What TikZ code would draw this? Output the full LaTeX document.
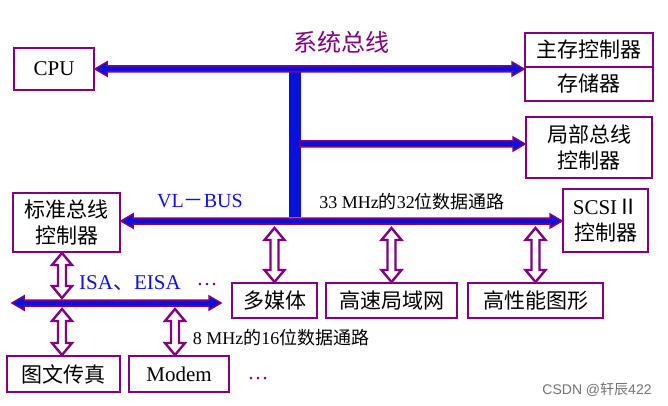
\documentclass[tikz,border=0pt]{standalone}
\usepackage{fontspec}
\setmainfont{Liberation Serif}
\newfontfamily\cjk{Noto Sans CJK SC}
\newfontfamily\wmfont{Liberation Sans}
\usetikzlibrary{calc}
\definecolor{boxpurple}{RGB}{128,0,128}
\definecolor{busblue}{RGB}{8,16,222}
\definecolor{labelblue}{RGB}{16,16,230}

% filled bus arrow with heads at both ends
\newcommand\busboth[2]{\draw[busarr] let \p1=(#1), \p2=(#2) in
  (\x1,\y1) -- (\x1+12pt,\y1+7pt) -- (\x1+12pt,\y1+3pt) -- (\x2-12pt,\y1+3pt)
  -- (\x2-12pt,\y1+7pt) -- (\x2,\y1) -- (\x2-12pt,\y1-7pt) -- (\x2-12pt,\y1-3pt)
  -- (\x1+12pt,\y1-3pt) -- (\x1+12pt,\y1-7pt) -- cycle;}
% filled bus arrow with a head at the right end only
\newcommand\busright[2]{\draw[busarr] let \p1=(#1), \p2=(#2) in
  (\x1,\y1+3pt) -- (\x2-12pt,\y1+3pt) -- (\x2-12pt,\y1+7pt) -- (\x2,\y1)
  -- (\x2-12pt,\y1-7pt) -- (\x2-12pt,\y1-3pt) -- (\x1,\y1-3pt) -- cycle;}
% hollow vertical double arrow from an upper point to a lower one
\newcommand\linkarrow[2]{\draw[hollowarr] let \p1=(#1), \p2=(#2) in
  (\x1,\y1) -- (\x1+10pt,\y1-12pt) -- (\x1+4pt,\y1-12pt) -- (\x1+4pt,\y2+12pt)
  -- (\x1+10pt,\y2+12pt) -- (\x1,\y2) -- (\x1-10pt,\y2+12pt) -- (\x1-4pt,\y2+12pt)
  -- (\x1-4pt,\y1-12pt) -- (\x1-10pt,\y1-12pt) -- cycle;}

\tikzset{
  box/.style={draw=boxpurple, line width=2pt, fill=white, inner sep=0pt,
    align=center, font=\fontsize{21}{26}\selectfont},
  busarr/.style={draw=boxpurple, line width=1.5pt, fill=busblue, line join=miter},
  hollowarr/.style={draw=boxpurple, line width=2.4pt, fill=white, line join=miter},
  bustitle/.style={font=\fontsize{24}{28}\selectfont\cjk, text=boxpurple},
  buslabel/.style={font=\fontsize{20}{24}\selectfont, text=labelblue},
  pathlabel/.style={font=\fontsize{18}{22}\selectfont, text=black},
  dots/.style={font=\fontsize{21}{24}\selectfont, text=boxpurple},
}

\begin{document}
\begin{tikzpicture}[x=1pt, y=-1pt]
\useasboundingbox (0,0) rectangle (668,406);
\fill[white] (0,0) rectangle (668,406);

% component boxes
\node[box, minimum width=80pt, minimum height=42pt] (cpu) at (54,69) {CPU};
\node[box, minimum width=128pt, minimum height=34pt, font=\fontsize{21}{26}\selectfont\cjk] (mainctl) at (589,50) {主存控制器};
\node[box, minimum width=128pt, minimum height=34pt, font=\fontsize{21}{26}\selectfont\cjk] (mem) at (589,84) {存储器};
\node[box, minimum width=126pt, minimum height=61pt, font=\fontsize{21}{26}\selectfont\cjk] (localctl) at (589,147.5) {局部总线\\控制器};
\node[box, minimum width=107pt, minimum height=59pt, font=\fontsize{21}{26}\selectfont\cjk] (stdctl) at (66.5,222.5) {标准总线\\控制器};
\node[box, minimum width=85pt, minimum height=63pt] (scsi) at (605.5,220.5) {SCSI{\cjk Ⅱ}\\{\cjk 控制器}};
\node[box, minimum width=85pt, minimum height=35pt, font=\fontsize{21}{26}\selectfont\cjk] (mm) at (274.5,300.5) {多媒体};
\node[box, minimum width=131pt, minimum height=35pt, font=\fontsize{21}{26}\selectfont\cjk] (lan) at (391.5,300.5) {高速局域网};
\node[box, minimum width=135pt, minimum height=35pt, font=\fontsize{21}{26}\selectfont\cjk] (gfx) at (535.5,300.5) {高性能图形};
\node[box, minimum width=113pt, minimum height=36pt, font=\fontsize{21}{26}\selectfont\cjk] (fax) at (63.5,374) {图文传真};
\node[box, minimum width=100pt, minimum height=36pt] (modem) at (179,374) {Modem};

% bus junction points
\coordinate (sysR) at (mainctl.south west);
\coordinate (vlL) at (stdctl.east |- 0,221);
\coordinate (vlR) at (scsi.west |- 0,221);
\coordinate (isaL) at (12,303);
\coordinate (isaR) at (221,303);
\coordinate (localL) at (300,144);
\coordinate (localR) at (localctl.west |- 0,144);

% trunk joining the system bus to the VL bus
\fill[busblue] (289,71) rectangle (301,217);

% buses
\busboth{cpu.east}{sysR}
\busright{localL}{localR}
\busboth{vlL}{vlR}
\busboth{isaL}{isaR}

% hollow links between buses and devices
\linkarrow{274.5,228}{mm.north}
\linkarrow{391.5,228}{lan.north}
\linkarrow{535.5,228}{gfx.north}
\linkarrow{62,253}{62,298}
\linkarrow{62,309}{62,355}
\linkarrow{175,309}{175,355}

% labels
\node[bustitle] (systitle) at (341,42) {系统总线};
\node[buslabel] (vllabel) at (200,201) {VL{\cjk －}BUS};
\node[pathlabel] (vlpath) at (412,202) {33 MHz{\cjk 的}32{\cjk 位数据通路}};
\node[buslabel, font=\fontsize{21}{24}\selectfont] (isalabel) at (130,283) {ISA{\cjk 、}EISA};
\node[dots] (isadots) at (207,285) {…};
\node[pathlabel] (isapath) at (281,338) {8 MHz{\cjk 的}16{\cjk 位数据通路}};
\node[dots] (moredots) at (258,379) {…};

\node[text=black!55, font=\fontsize{14}{16}\selectfont\wmfont] (mark) at (597,390) {CSDN @{\cjk 轩辰}422};
\end{tikzpicture}
\end{document}
